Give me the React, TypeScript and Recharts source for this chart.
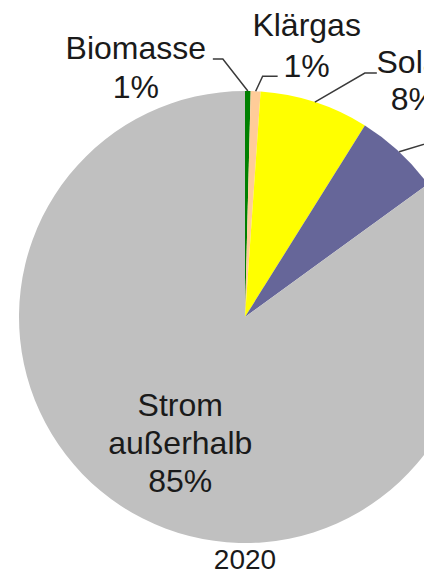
import React from "react";
import { PieChart, Pie, Cell } from "recharts";

// Anteile am Strombezug 2020
const sources = ["Biomasse", "Klärgas", "Solar", "Wind", "Strom außerhalb"];
const shares = [0.4, 0.7, 7.8, 6.1, 85.0];
const shareLabels = ["1%", "1%", "8%", "6%", "85%"];
const yearLabel = "2020";

const colors = ["#008000", "#FFCC99", "#FFFF00", "#666699", "#C0C0C0"];

// leader line + text placement per slice (relative to the slice edge)
const labelLayout: any[] = [
  { ex: -25, ey: -32, run: -10, tx: -77, l1: 0, l2: 39, lines: ["Biomasse"] },
  { ex: 7, ey: -15, run: 15, tx: 29, l1: -40, l2: 1, lines: ["Klärgas"] },
  { ex: 50, ey: -29, run: 12, tx: 37, l1: 0, l2: 37, lines: ["Solar"] },
  { ex: 40, ey: -12, run: 10, tx: 40, l1: -18, l2: 20, lines: ["Wind"] },
  { inside: true, r: 0.67, dx: 4, dy: -2, lines: ["Strom", "außerhalb"] },
];

const data = sources.map((name, i) => ({
  name,
  value: shares[i],
  pct: shareLabels[i],
}));

const RADIAN = Math.PI / 180;
const FONT = "'Liberation Sans', Arial, sans-serif";
const TEXT = "#1a1a1a";

const renderLabel = (props: any) => {
  const { cx, cy, midAngle, outerRadius, index } = props;
  const lay = labelLayout[index];
  const cos = Math.cos(-midAngle * RADIAN);
  const sin = Math.sin(-midAngle * RADIAN);

  if (lay.inside) {
    const px = cx + outerRadius * lay.r * cos + lay.dx;
    const py = cy + outerRadius * lay.r * sin + lay.dy;
    const all = [...lay.lines, data[index].pct];
    return (
      <text
        x={px}
        y={py}
        textAnchor="middle"
        fontSize={32}
        fontFamily={FONT}
        fill={TEXT}
      >
        {all.map((t: string, i: number) => (
          <tspan key={i} x={px} y={py + (i - 1) * 38 + 4}>
            {t}
          </tspan>
        ))}
      </text>
    );
  }

  const sx = cx + outerRadius * cos;
  const sy = cy + outerRadius * sin;
  const mx = sx + lay.ex;
  const my = sy + lay.ey;
  const endX = mx + lay.run;
  const tx = endX + lay.tx;

  return (
    <g>
      <polyline
        points={`${sx},${sy} ${mx},${my} ${endX},${my}`}
        fill="none"
        stroke="#3a3a3a"
        strokeWidth={1.5}
      />
      <text
        x={tx}
        y={my + lay.l1}
        textAnchor="middle"
        fontSize={32}
        fontFamily={FONT}
        fill={TEXT}
      >
        <tspan x={tx} y={my + lay.l1}>
          {lay.lines[0]}
        </tspan>
        <tspan x={tx} y={my + lay.l2}>
          {data[index].pct}
        </tspan>
      </text>
    </g>
  );
};

export default function App() {
  return (
    <div
      style={{
        position: "absolute",
        left: 0,
        top: 0,
        width: 424,
        height: 574,
        overflow: "hidden",
        background: "#fff",
      }}
    >
      <PieChart
        width={424}
        height={574}
        margin={{ top: 0, right: 0, bottom: 0, left: 0 }}
      >
        <Pie
          data={data}
          dataKey="value"
          nameKey="name"
          cx={245}
          cy={317}
          outerRadius={226}
          startAngle={90}
          endAngle={-270}
          stroke="none"
          label={renderLabel}
          labelLine={false}
          isAnimationActive={false}
        >
          {data.map((entry, i) => (
            <Cell key={`cell-${i}`} fill={colors[i]} />
          ))}
        </Pie>
        <text
          x={245}
          y={569}
          textAnchor="middle"
          fontSize={28}
          fontFamily={FONT}
          fill={TEXT}
        >
          {yearLabel}
        </text>
      </PieChart>
    </div>
  );
}
